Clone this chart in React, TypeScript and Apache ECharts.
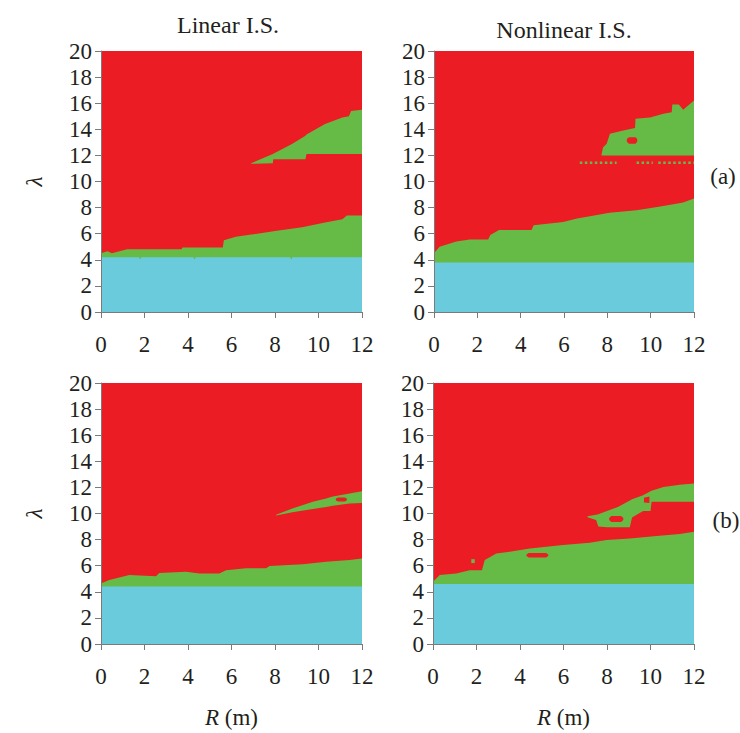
import React, { useEffect, useRef } from "react";
import * as echarts from "echarts";

// Region colours
const RED = "#EC1C24";
const GREEN = "#66BB46";
const CYAN = "#6ACBDD";

// Axis extents and tick step
const R_RANGE = [0, 12];
const LAMBDA_RANGE = [0, 20];
const R_STEP = 2;
const LAMBDA_STEP = 2;

// ---- Linear I.S., case (a) ----
// upper edge of the cyan region: [R, λ]
const linA_cyanTop = [
  [0, 4.2], [1.75, 4.2], [1.8, 4.0], [1.85, 4.2], [4.25, 4.2], [4.3, 4.0],
  [4.35, 4.2], [8.7, 4.2], [8.75, 4.0], [8.8, 4.2], [12, 4.2],
];
// upper edge of the lower green band: [R, λ]
const linA_greenTop = [
  [0, 4.5], [0.3, 4.65], [0.5, 4.5], [1.2, 4.8], [3.7, 4.8], [3.75, 4.95],
  [5.6, 4.95], [5.65, 5.5], [6.2, 5.77], [7.0, 5.95], [8.0, 6.2], [9.25, 6.5],
  [10.3, 6.85], [11.1, 7.1], [11.3, 7.4], [12, 7.4],
];
// upper green wedge: [R, λ low, λ high]
const linA_wedge = [
  [6.9, 11.36, 11.4], [7.9, 11.4, 12.1], [7.92, 11.7, 12.12], [8.8, 11.7, 12.9],
  [9.4, 11.7, 13.5], [9.45, 12.1, 13.6], [10.3, 12.1, 14.4], [11.1, 12.1, 14.9],
  [11.4, 12.1, 15.0], [11.5, 12.1, 15.4], [12, 12.1, 15.5],
];

// ---- Nonlinear I.S., case (a) ----
const nonA_cyanTop = [[0, 3.8], [12, 3.8]];
const nonA_greenTop = [
  [0, 4.5], [0.26, 5.0], [1.03, 5.4], [1.65, 5.55], [2.5, 5.55], [2.6, 5.9],
  [3.0, 6.28], [4.5, 6.28], [4.6, 6.65], [5.96, 6.9], [6.6, 7.17], [7.2, 7.34],
  [8.1, 7.6], [9.35, 7.8], [10.3, 8.05], [11.05, 8.26], [11.5, 8.4], [12, 8.7],
];
const nonA_wedge = [
  [7.73, 12.0, 12.05], [7.8, 12.0, 12.6], [7.97, 12.0, 12.9], [8.12, 12.0, 13.65],
  [8.74, 12.0, 13.9], [9.28, 12.0, 14.1], [9.3, 12.0, 14.8], [9.97, 12.0, 14.9],
  [10.59, 12.0, 15.2], [10.97, 12.0, 15.3], [11.0, 12.0, 15.9], [11.3, 12.0, 15.9],
  [11.5, 12.0, 15.5], [12, 12.0, 16.2],
];
const nonA_holes = [
  [[8.9, 13.05, 13.25], [9.0, 12.9, 13.4], [9.3, 12.9, 13.4], [9.38, 13.05, 13.25]],
];
// dotted green trace just under λ = 12: [R start, R end]
const nonA_dotLevel = 11.44;
const nonA_dotSegments = [[6.73, 8.43], [9.35, 10.1], [10.35, 12]];

// ---- Linear I.S., case (b) ----
const linB_cyanTop = [[0, 4.4], [12, 4.4]];
const linB_greenTop = [
  [0, 4.64], [0.38, 4.9], [1.3, 5.28], [2.53, 5.2], [2.68, 5.45], [3.91, 5.54],
  [4.52, 5.4], [5.44, 5.4], [5.75, 5.66], [6.67, 5.8], [7.59, 5.8], [7.75, 5.97],
  [9.28, 6.12], [10.35, 6.3], [11.43, 6.43], [12, 6.55],
];
const linB_wedge = [
  [8.05, 9.85, 9.9], [8.8, 10.1, 10.38], [9.74, 10.35, 10.9], [10.35, 10.5, 11.15],
  [10.66, 10.6, 11.3], [11.43, 10.77, 11.53], [12, 10.8, 11.7],
];
const linB_holes = [
  [[10.8, 11.0, 11.15], [10.9, 10.92, 11.22], [11.2, 10.92, 11.22], [11.3, 11.0, 11.15]],
];

// ---- Nonlinear I.S., case (b) ----
const nonB_cyanTop = [[0, 4.6], [12, 4.6]];
const nonB_greenTop = [
  [0, 4.77], [0.31, 5.28], [1.07, 5.4], [1.69, 5.66], [2.25, 5.66], [2.38, 6.43],
  [2.91, 6.94], [3.53, 7.07], [4.45, 7.32], [5.98, 7.58], [7.21, 7.76], [7.98, 7.96],
  [9.05, 8.09], [10.28, 8.27], [11.35, 8.42], [12, 8.6],
];
const nonB_wedge = [
  [7.1, 9.72, 9.78], [7.5, 9.5, 9.9], [7.6, 9.0, 9.95], [8.0, 8.95, 10.2],
  [8.5, 8.95, 10.5], [9.05, 8.95, 11.0], [9.15, 9.7, 11.1], [9.66, 10.2, 11.4],
  [10.0, 10.2, 11.7], [10.05, 10.9, 11.75], [10.6, 10.9, 12.04], [11.35, 10.9, 12.2],
  [12, 10.9, 12.3],
];
const nonB_holes = [
  [[4.3, 6.75, 6.85], [4.4, 6.62, 6.98], [5.2, 6.62, 6.98], [5.3, 6.75, 6.85]],
  [[8.1, 9.5, 9.65], [8.2, 9.35, 9.8], [8.65, 9.35, 9.8], [8.75, 9.5, 9.65]],
  [[9.7, 10.85, 11.2], [9.95, 10.8, 11.3]],
];
const nonB_specks = [[[1.76, 6.2, 6.5], [1.92, 6.2, 6.5]]];

type Row = number[];
type Layer = { color: string; rows: Row[] };

// a curve [R, λ] becomes a band that reaches down to λ = 0
const fromZero = (curve: number[][]): Row[] => curve.map(([r, l]) => [r, 0, l]);
const fullField: Row[] = [
  [R_RANGE[0], LAMBDA_RANGE[0], LAMBDA_RANGE[1]],
  [R_RANGE[1], LAMBDA_RANGE[0], LAMBDA_RANGE[1]],
];

function buildLayers(
  cyanTop: number[][],
  greenTop: number[][],
  wedge: Row[],
  holes: Row[][] = [],
  specks: Row[][] = []
): Layer[] {
  return [
    { color: RED, rows: fullField },
    { color: GREEN, rows: wedge },
    { color: GREEN, rows: fromZero(greenTop) },
    { color: CYAN, rows: fromZero(cyanTop) },
    ...holes.map((rows) => ({ color: RED, rows })),
    ...specks.map((rows) => ({ color: GREEN, rows })),
  ];
}

const panels = [
  { layers: buildLayers(linA_cyanTop, linA_greenTop, linA_wedge), grid: { left: 101, top: 51, width: 261, height: 261 }, xName: false, yName: true },
  { layers: buildLayers(nonA_cyanTop, nonA_greenTop, nonA_wedge, nonA_holes), grid: { left: 434, top: 51, width: 260, height: 261 }, xName: false, yName: false },
  { layers: buildLayers(linB_cyanTop, linB_greenTop, linB_wedge, linB_holes), grid: { left: 101, top: 383, width: 261, height: 261 }, xName: true, yName: true },
  { layers: buildLayers(nonB_cyanTop, nonB_greenTop, nonB_wedge, nonB_holes, nonB_specks), grid: { left: 433, top: 383, width: 261, height: 261 }, xName: true, yName: false },
];

const FONT = "Liberation Serif";
const TEXT = "#231F20";
const AXIS = "#7a7a7a";

export default function App() {
  const ref = useRef<HTMLDivElement>(null);

  useEffect(() => {
    if (!ref.current) return;
    const chart = echarts.init(ref.current, undefined, { renderer: "svg" });

    const axisCommon = {
      type: "value" as const,
      z: 5,
      axisLine: { show: true, onZero: false, lineStyle: { color: AXIS, width: 1 } },
      axisTick: { show: true, inside: false, length: 6, lineStyle: { color: AXIS, width: 1 } },
      splitLine: { show: false },
    };

    const xAxis = panels.map((p, i) => ({
      ...axisCommon,
      gridIndex: i,
      min: R_RANGE[0],
      max: R_RANGE[1],
      interval: R_STEP,
      axisLabel: { color: TEXT, fontFamily: FONT, fontSize: 23, margin: 21 },
      name: p.xName ? "{i|R} (m)" : "",
      nameLocation: "middle" as const,
      nameGap: 62,
      nameTextStyle: {
        color: TEXT,
        fontFamily: FONT,
        fontSize: 23,
        rich: { i: { fontStyle: "italic", fontFamily: FONT, fontSize: 23, color: TEXT } },
      },
    }));

    const yAxis = panels.map((p, i) => ({
      ...axisCommon,
      gridIndex: i,
      min: LAMBDA_RANGE[0],
      max: LAMBDA_RANGE[1],
      interval: LAMBDA_STEP,
      axisLabel: { color: TEXT, fontFamily: FONT, fontSize: 23, margin: 9 },
      name: p.yName ? "λ" : "",
      nameLocation: "middle" as const,
      nameRotate: 90,
      nameGap: 55,
      nameTextStyle: { color: TEXT, fontFamily: FONT, fontSize: 23, fontStyle: "italic" },
    }));

    const regionSeries = panels.map((p, i) => ({
      type: "custom" as const,
      coordinateSystem: "cartesian2d",
      xAxisIndex: i,
      yAxisIndex: i,
      silent: true,
      data: p.layers.map((_, k) => [0, 0, k]),
      encode: { x: 0, y: 1 },
      renderItem: (params: any, api: any) => {
        const layer = p.layers[params.dataIndex];
        const upper = layer.rows.map((r) => api.coord([r[0], r[2]]));
        const lower = layer.rows.map((r) => api.coord([r[0], r[1]])).reverse();
        return {
          type: "polygon",
          shape: { points: upper.concat(lower) },
          style: { fill: layer.color, stroke: null },
        };
      },
    }));

    const dottedSeries = nonA_dotSegments.map(([r0, r1]) => ({
      type: "line" as const,
      xAxisIndex: 1,
      yAxisIndex: 1,
      silent: true,
      symbol: "none",
      data: [[r0, nonA_dotLevel], [r1, nonA_dotLevel]],
      lineStyle: { color: GREEN, width: 2.5, type: "dotted" as const },
      z: 3,
    }));

    chart.setOption({
      animation: false,
      backgroundColor: "#ffffff",
      textStyle: { fontFamily: FONT },
      grid: panels.map((p) => ({ ...p.grid, containLabel: false })),
      xAxis,
      yAxis,
      series: [...regionSeries, ...dottedSeries],
      graphic: [
        { type: "text", x: 228, y: 25, style: { text: "Linear I.S.", fontFamily: FONT, fontSize: 24, fill: TEXT, textAlign: "center", textVerticalAlign: "middle" } },
        { type: "text", x: 564, y: 30, style: { text: "Nonlinear I.S.", fontFamily: FONT, fontSize: 24, fill: TEXT, textAlign: "center", textVerticalAlign: "middle" } },
        { type: "text", x: 723, y: 176, style: { text: "(a)", fontFamily: FONT, fontSize: 23, fill: TEXT, textAlign: "center", textVerticalAlign: "middle" } },
        { type: "text", x: 726, y: 520, style: { text: "(b)", fontFamily: FONT, fontSize: 23, fill: TEXT, textAlign: "center", textVerticalAlign: "middle" } },
      ],
    });

    return () => chart.dispose();
  }, []);

  return (
    <div
      ref={ref}
      style={{ position: "fixed", left: 0, top: 0, width: 740, height: 733, background: "#fff" }}
    />
  );
}
